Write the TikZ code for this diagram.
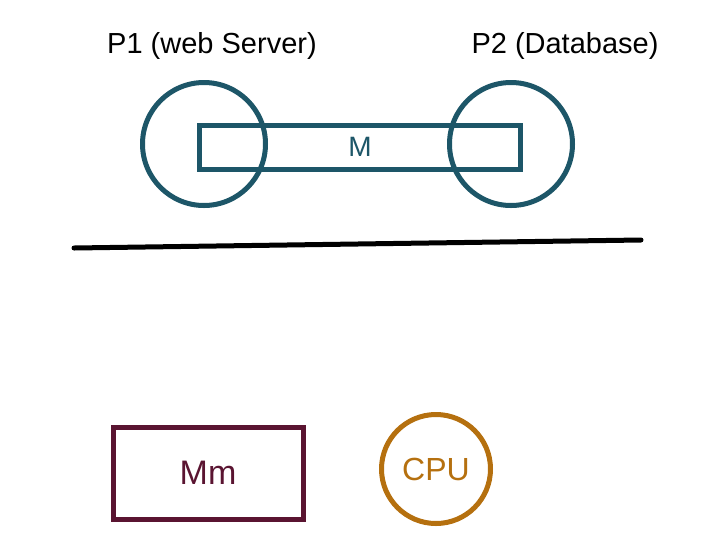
\documentclass[tikz,border=0pt]{standalone}
\usepackage{fontspec}
\setmainfont{Liberation Sans}
\definecolor{tealc}{HTML}{1D5668}
\definecolor{maroonc}{HTML}{5A1431}
\definecolor{orangec}{HTML}{B5700F}
\begin{document}
\begin{tikzpicture}[x=1pt,y=-1pt,
  proc/.style={draw=tealc,line width=5pt,circle,minimum size=123pt,inner sep=0pt},
  lbl/.style={font=\fontsize{29}{33}\selectfont,text=black,inner sep=0pt}]
\useasboundingbox (0,0) rectangle (718,550);
\node[lbl] (l1) at (212,46) {P1 (web Server)};
\node[lbl] (l2) at (565,46) {P2 (Database)};
\node[proc] (p1) at (204,144) {};
\node[proc] (p2) at (511,144) {};
\node[draw=tealc,line width=5pt,minimum width=321pt,minimum height=44pt,inner sep=0pt,
  text=tealc,font=\fontsize{28}{32}\selectfont] (m) at (360,147) {M};
\coordinate (la) at (74,248);
\coordinate (lb) at (641,240);
\draw[line width=5pt,line cap=round] (la) -- (lb);
\node[draw=maroonc,line width=5pt,minimum width=190pt,minimum height=92pt,inner sep=0pt,
  text=maroonc,font=\fontsize{34}{38}\selectfont] (mm) at (208,473) {Mm};
\node[draw=orangec,line width=5pt,circle,minimum size=109pt,inner sep=0pt,
  text=orangec,font=\fontsize{32}{36}\selectfont] (cpu) at (436,469) {CPU};
\end{tikzpicture}
\end{document}
